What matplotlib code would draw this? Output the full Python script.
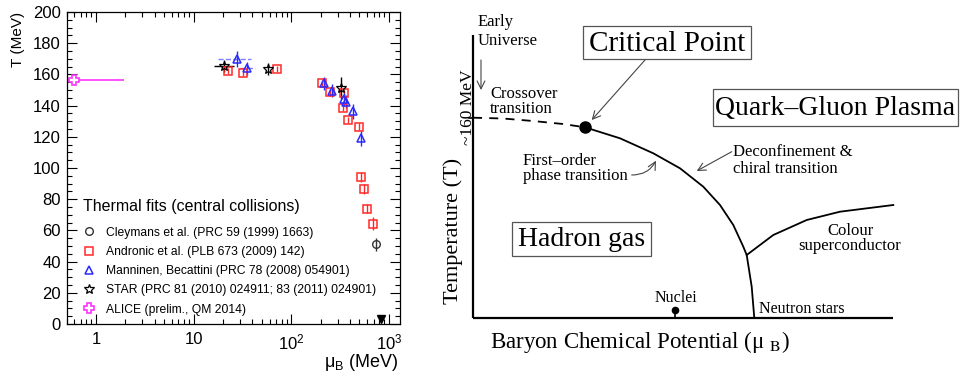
import matplotlib
matplotlib.use('Agg')
import matplotlib.pyplot as plt
from matplotlib.lines import Line2D
from matplotlib.patches import Rectangle
from matplotlib.ticker import FixedLocator, FixedFormatter, LogLocator, MultipleLocator, NullFormatter

# thermal fit results: mu_B (MeV), T (MeV)
andronic_mu = [22.6, 32, 71, 207, 249, 348, 341, 386, 493, 520, 550, 596, 680]
andronic_T = [162.4, 161.0, 163.5, 154.5, 148.4, 148.0, 138.7, 130.6, 126.6, 94.3, 86.5, 74.0, 64.4]
andronic_Terr = [2, 2, 2, 2, 2, 2, 2, 2, 2, 3, 3, 3, 4]

manninen_mu = [27.9, 35, 216, 262, 345, 365, 425, 522]
manninen_T = [169.7, 163.9, 154.3, 149.6, 144.0, 142.5, 136.3, 119.0]
manninen_Terr = [5, 4, 4, 4, 4, 4, 5, 5]
manninen_mu_lo = [10.2, 5, 0, 0, 0, 0, 0, 0]
manninen_mu_hi = [10.4, 8, 0, 0, 0, 0, 0, 0]

star_mu = [20.7, 58, 323]
star_T = [165.4, 163.5, 151.3]
star_Terr = [4, 4, 7]
star_mu_lo = [4.6, 0, 0]
star_mu_hi = [5.0, 0, 0]

cleymans_mu = [744]
cleymans_T = [51]
cleymans_Terr = [4]

alice_mu = [0.6]
alice_T = [156.4]
alice_mu_lo = [0.3]
alice_mu_hi = [1.35]

nuclear_mu = [824]
nuclear_T = [3]

xtick_vals = [1, 10, 100, 1000]
xtick_text = ['1', '10', r'$\mathregular{10^2}$', r'$\mathregular{10^3}$']

# schematic phase diagram (arbitrary units, origin at the axis corner)
crossover_mu = [0, 30, 60, 90, 112]
crossover_T = [200.3, 199.5, 197, 194, 190.7]
first_order_mu = [112, 147, 180.3, 207, 230.3, 247, 260.3, 270.3, 273.7, 278.7, 281.3]
first_order_T = [190.7, 179.7, 164.7, 149.7, 131.3, 113, 93, 71.3, 63, 31.3, 0]
csc_mu = [273.7, 300.3, 333.7, 367, 420.3]
csc_T = [63, 83, 98, 106.3, 113]
critical_point = (112, 190.7)
nuclei_point = (202.3, 8)
axis_mu_max = 420
axis_T_max = 283

sans = 'Liberation Sans'
serif = 'Liberation Serif'
plt.rcParams['font.family'] = sans
plt.rcParams['mathtext.fontset'] = 'custom'
plt.rcParams['mathtext.rm'] = sans
plt.rcParams['mathtext.it'] = sans + ':italic'

fig = plt.figure(figsize=(9.63, 3.8), dpi=100)

#-------------------------------------------------------------------------
# left: freeze-out temperature vs mu_B
#-------------------------------------------------------------------------
ax = fig.add_axes([66.5 / 963, 1 - 324 / 380, 333.5 / 963, 312 / 380])

red = '#ff2a2a'
blue = '#2a2aff'
magenta = '#ff33ff'
ms = 5.5

ax.errorbar(alice_mu, alice_T, xerr=[alice_mu_lo, alice_mu_hi], yerr=3, fmt='P', ms=7.5,
            mfc='white', mec=magenta, mew=1.2, ecolor=magenta, elinewidth=1.2, capsize=0)
ax.errorbar(andronic_mu, andronic_T, yerr=andronic_Terr, fmt='s', ms=ms, mfc='none',
            mec=red, mew=1.1, ecolor=red, elinewidth=1.0, capsize=0)
eb = ax.errorbar(manninen_mu, manninen_T, yerr=manninen_Terr, xerr=[manninen_mu_lo, manninen_mu_hi],
                 fmt='^', ms=ms + 0.5, mfc='none', mec=blue, mew=1.1, ecolor=blue,
                 elinewidth=1.0, capsize=0)
eb[2][0].set_linestyle('--')
eb[2][0].set_alpha(0.6)
ax.errorbar(star_mu, star_T, yerr=star_Terr, xerr=[star_mu_lo, star_mu_hi], fmt='*', ms=ms + 2,
            mfc='none', mec='black', mew=0.9, ecolor='black', elinewidth=1.0, capsize=0)
ax.errorbar(cleymans_mu, cleymans_T, yerr=cleymans_Terr, fmt='o', ms=ms, mfc='none',
            mec='#333333', mew=1.0, ecolor='#333333', elinewidth=1.0, capsize=0)
ax.plot(nuclear_mu, nuclear_T, 'v', ms=6, color='black', clip_on=False)

ax.set_xscale('log')
ax.set_xlim(0.5, 1300)
ax.set_ylim(0, 200)
ax.xaxis.set_major_locator(FixedLocator(xtick_vals))
ax.xaxis.set_major_formatter(FixedFormatter(xtick_text))
ax.xaxis.set_minor_locator(LogLocator(base=10, subs=range(2, 10)))
ax.xaxis.set_minor_formatter(NullFormatter())
ax.yaxis.set_major_locator(MultipleLocator(20))
ax.yaxis.set_minor_locator(MultipleLocator(5))
ax.tick_params(which='both', direction='in', top=True, right=True, labelsize=12, width=0.8)
ax.tick_params(which='major', length=7, pad=4)
ax.tick_params(which='minor', length=3.5)
ax.tick_params(axis='x', which='major', pad=6)
for s in ax.spines.values():
    s.set_linewidth(0.9)

ax.set_ylabel('T (MeV)', fontsize=11, loc='top')
ax.yaxis.set_label_coords(-0.124, 1.0)
ax.set_xlabel(r'μ$_\mathregular{B}$ (MeV)', fontsize=13, loc='right')
ax.xaxis.set_label_coords(0.994, -0.09)

handles = [
    Line2D([], [], ls='none', marker='o', ms=ms, mfc='none', mec='#333333', mew=1.0),
    Line2D([], [], ls='none', marker='s', ms=ms, mfc='none', mec=red, mew=1.1),
    Line2D([], [], ls='none', marker='^', ms=ms + 0.5, mfc='none', mec=blue, mew=1.1),
    Line2D([], [], ls='none', marker='*', ms=ms + 2, mfc='none', mec='black', mew=0.9),
    Line2D([], [], ls='none', marker='P', ms=7, mfc='white', mec=magenta, mew=1.2),
]
labels = [
    'Cleymans et al. (PRC 59 (1999) 1663)',
    'Andronic et al. (PLB 673 (2009) 142)',
    'Manninen, Becattini (PRC 78 (2008) 054901)',
    'STAR (PRC 81 (2010) 024911; 83 (2011) 024901)',
    'ALICE (prelim., QM 2014)',
]
leg = ax.legend(handles, labels, loc='upper left', bbox_to_anchor=(0.05, 0.40),
                title='Thermal fits (central collisions)', title_fontsize=11.5, fontsize=8.7,
                frameon=False, alignment='left', handlelength=1.0, handletextpad=0.9,
                labelspacing=0.6, borderpad=0, borderaxespad=0)
leg._legend_box.sep = 9

#-------------------------------------------------------------------------
# right: schematic QCD phase diagram
#-------------------------------------------------------------------------
ax2 = fig.add_axes([440 / 963, 0, 523 / 963, 1])
ax2.set_xlim(-33, 490)
ax2.set_ylim(-62, 318)
ax2.axis('off')

ax2.plot([0, 0], [0, axis_T_max], color='black', lw=1.6, solid_capstyle='butt')
ax2.plot([0, axis_mu_max], [0, 0], color='black', lw=1.6, solid_capstyle='butt')
ax2.plot([-4, 0], [crossover_T[0], crossover_T[0]], color='black', lw=1.2)
ax2.plot(crossover_mu, crossover_T, color='black', lw=1.3, ls=(0, (5, 4)))
ax2.plot(first_order_mu, first_order_T, color='black', lw=1.3)
ax2.plot(csc_mu, csc_T, color='black', lw=1.3)
ax2.plot(*critical_point, 'o', color='black', ms=8)
ax2.plot([nuclei_point[0], nuclei_point[0]], [0, nuclei_point[1]], color='black', lw=1.2)
ax2.plot(*nuclei_point, 'o', color='black', ms=4.5)

boxes = [
    ('Critical Point', 109.7, 258.7, 277.7, 292, 21),
    ('Quark\u2013Gluon Plasma', 239.7, 192, 485, 228.7, 20),
    ('Hadron gas', 38.7, 62.3, 177.7, 95.7, 20),
]
for label, x0, y0, x1, y1, fs in boxes:
    ax2.add_patch(Rectangle((x0, y0), x1 - x0, y1 - y0, fc='white', ec='#555555', lw=0.9))
    ax2.text((x0 + x1) / 2, (y0 + y1) / 2 - 1, label, family=serif, fontsize=fs,
             ha='center', va='center')

# region and transition labels; y is the baseline of the last line
notes = [
    ('Early\nUniverse', 4.7, 273, 'left', 12, 1.26),
    ('Crossover\ntransition', 17, 205, 'left', 12, 0.9),
    ('First\u2013order\nphase transition', 50, 138, 'left', 12, 0.93),
    ('Deconfinement &\nchiral transition', 260.3, 144.7, 'left', 12, 1.1),
    ('Colour\nsuperconductor', 377, 68, 'center', 12, 0.95),
    ('Neutron stars', 286.3, 4.7, 'left', 11.5, 1.0),
    ('Nuclei', 202.7, 16.3, 'center', 11.5, 1.0),
]
for txt, x, y, ha, fs, ls in notes:
    ax2.text(x, y, txt, ha=ha, va='baseline', multialignment=ha, family=serif,
             fontsize=fs, linespacing=ls)
ax2.text(-5.5, 211, '~160 MeV', rotation=90, ha='center', va='center', family=serif,
         fontsize=12.5)

ax2.text(17, -23.7, 'Baryon Chemical Potential (μ $_\\mathrm{B}$)', ha='left', va='center',
         family=serif, fontsize=16.5, math_fontfamily='stix')
ax2.text(-20, 87, 'Temperature (T)', rotation=90, ha='center', va='center',
         family=serif, fontsize=16)

arrow = dict(arrowstyle='->', color='#444444', lw=0.8, shrinkA=0, shrinkB=0, mutation_scale=14)
ax2.annotate('', xy=(8, 228), xytext=(8, 258), arrowprops=arrow)
ax2.annotate('', xy=(118.7, 198), xytext=(172, 258), arrowprops=arrow)
ax2.annotate('', xy=(223.7, 147), xytext=(258.7, 166.3), arrowprops=arrow)
ax2.annotate('', xy=(183, 157.3), xytext=(158.7, 143),
             arrowprops=dict(arrow, connectionstyle='arc3,rad=0.3'))

fig.savefig('out.png', dpi=100)
